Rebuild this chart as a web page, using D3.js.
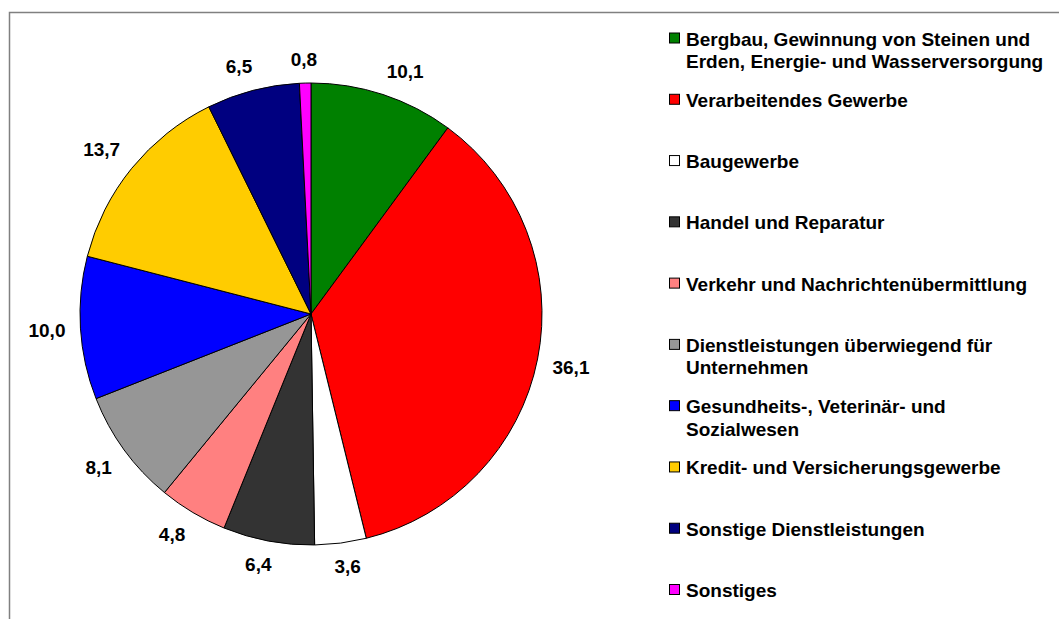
<!DOCTYPE html>
<html>
<head>
<meta charset="utf-8">
<script src="https://cdn.jsdelivr.net/npm/d3@7"></script>
<style>
  body { margin: 0; background: #fff; }
  svg { display: block; }
</style>
</head>
<body>
<div id="chart"></div>
<script>
// --- Data: share of sectors (percent) ---
const categories = [
  "Bergbau, Gewinnung von Steinen und\nErden, Energie- und Wasserversorgung",
  "Verarbeitendes Gewerbe",
  "Baugewerbe",
  "Handel und Reparatur",
  "Verkehr und Nachrichtenübermittlung",
  "Dienstleistungen überwiegend für\nUnternehmen",
  "Gesundheits-, Veterinär- und\nSozialwesen",
  "Kredit- und Versicherungsgewerbe",
  "Sonstige Dienstleistungen",
  "Sonstiges"
];
const values = [10.1, 36.1, 3.6, 6.4, 4.8, 8.1, 10.0, 13.7, 6.5, 0.8];
const colors = ["#008000", "#ff0000", "#ffffff", "#333333", "#ff8080",
                "#969696", "#0000ff", "#ffcc00", "#000080", "#ff00ff"];

const W = 1059, H = 619;
const cx = 311, cy = 314, r = 231;
const fontFam = "'Liberation Sans', Arial, sans-serif";

const svg = d3.select("#chart").append("svg")
  .attr("width", W).attr("height", H);

// outer frame (runs off the right and bottom edges)
svg.append("rect")
  .attr("x", 9.5).attr("y", 12.5)
  .attr("width", 1200).attr("height", 800)
  .attr("fill", "none")
  .attr("stroke", "#808080")
  .attr("stroke-width", 1.5);

// --- Pie ---
const data = values.map((v, i) => ({ label: categories[i], value: v, color: colors[i] }));
const pie = d3.pie().sort(null).value(d => d.value);
const arcs = pie(data);
const arc = d3.arc().innerRadius(0).outerRadius(r);

const g = svg.append("g").attr("transform", `translate(${cx},${cy})`);

g.selectAll("path.slice")
  .data(arcs)
  .enter()
  .append("path")
  .attr("class", "slice")
  .attr("d", arc)
  .attr("fill", d => d.data.color)
  .attr("stroke", "#000")
  .attr("stroke-width", 1);

// value labels outside the pie, box pushed away from the rim
const labelR = r + 15;
const clamp = v => Math.max(-1, Math.min(1, v));
g.selectAll("text.val")
  .data(arcs)
  .enter()
  .append("text")
  .attr("class", "val")
  .attr("font-family", fontFam)
  .attr("font-weight", "bold")
  .attr("font-size", "19px")
  .attr("fill", "#000")
  .attr("text-anchor", "middle")
  .attr("dominant-baseline", "central")
  .text(d => d.data.value.toFixed(1).replace(".", ","))
  .each(function(d) {
    const a = (d.startAngle + d.endAngle) / 2;
    const s = Math.sin(a), c = -Math.cos(a);
    const bb = this.getBBox();
    const x = labelR * s + clamp(s * 3) * bb.width / 2;
    const y = labelR * c + clamp(c * 3) * 9;
    d3.select(this).attr("x", x).attr("y", y);
  });

// --- Legend ---
const ly = d3.scaleLinear().domain([0, categories.length - 1]).range([38.5, 590]);
const legend = svg.append("g");
const items = legend.selectAll("g.item")
  .data(data)
  .enter()
  .append("g")
  .attr("class", "item")
  .attr("transform", (d, i) => `translate(669,${ly(i)})`);

items.append("rect")
  .attr("x", 0.5).attr("y", -5.5)
  .attr("width", 10).attr("height", 10)
  .attr("fill", d => d.color)
  .attr("stroke", "#000")
  .attr("stroke-width", 1);

items.append("text")
  .attr("font-family", fontFam)
  .attr("font-weight", "bold")
  .attr("font-size", "19px")
  .attr("fill", "#000")
  .each(function(d) {
    const lines = d.label.split("\n");
    const t = d3.select(this);
    lines.forEach((ln, j) => {
      t.append("tspan")
        .attr("x", 17)
        .attr("y", j * 22.5 + 7)
        .text(ln);
    });
  });
</script>
</body>
</html>
